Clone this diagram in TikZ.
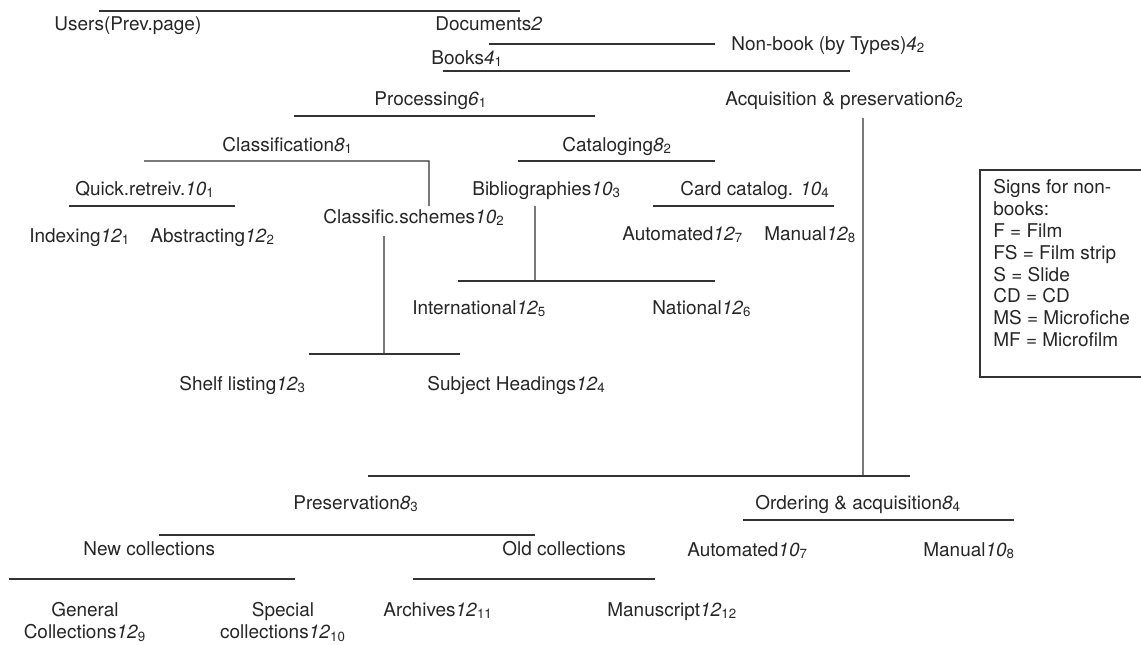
\documentclass[tikz,border=0pt]{standalone}
\usepackage{fontspec}
\setmainfont{TeX Gyre Heros}
\usetikzlibrary{positioning}
\newcommand{\refno}[2]{\textit{#1}\textsubscript{#2}}

\begin{document}
\begin{tikzpicture}[scale=0.2]
\tikzstyle{every node}+=[inner sep=0pt, text=black!85, font=\fontsize{10.8pt}{12.45pt}\selectfont]
\tikzstyle{lbl}=[anchor=base west]
\tikzstyle{bar}=[black!80, line width=0.6pt]
\useasboundingbox (0,0) rectangle (114.1,-64.4);
% top levels
\draw [bar] (9.9,-1.1) -- (52,-1.1);
\draw (5.4,-3) node [lbl] (users) {Users(Prev.page)};
\draw (43.5,-3) node [lbl] (docs) {Documents\textit{2}};
\draw [bar] (48.9,-4.4) -- (71.5,-4.4);
\draw (73.1,-5) node [lbl] (nonbook) {Non-book (by Types)\refno{4}{2}};
\draw (43.1,-6.4) node [lbl] (books) {Books\refno{4}{1}};
\draw [bar] (44.3,-7.1) -- (85,-7.1);
\draw (37.4,-10.5) node [lbl] (proc) {Processing\refno{6}{1}};
\draw (72.5,-10.5) node [lbl] (acq) {Acquisition \& preservation\refno{6}{2}};
\draw [bar] (29.4,-11.6) -- (59.5,-11.6);
% processing
\draw (22.2,-15.1) node [lbl] (class) {Classification\refno{8}{1}};
\draw (56.2,-15.1) node [lbl] (catal) {Cataloging\refno{8}{2}};
\coordinate (classend) at (42.9,-16.1);
\draw [bar] (14.4,-16.1) -- (classend) -- ++(0,-4.5);
\draw [bar] (51.8,-16.1) -- (71.5,-16.1);
\draw (7.5,-19.5) node [lbl] (quick) {Quick.retreiv.\refno{10}{1}};
\draw (47.2,-19.5) node [lbl] (biblio) {Bibliographies\refno{10}{3}};
\draw (68,-19.5) node [lbl] (card) {Card catalog. \refno{10}{4}};
\draw [bar] (6.9,-20.6) -- (23.5,-20.6);
\draw [bar] (65.3,-20.6) -- (83.4,-20.6);
\draw (32.3,-22.3) node [lbl] (schemes) {Classific.schemes\refno{10}{2}};
\draw (2.9,-24.2) node [lbl] (index) {Indexing\refno{12}{1}};
\draw (15,-24.2) node [lbl] (abstr) {Abstracting\refno{12}{2}};
\draw (62.2,-24) node [lbl] (auto12) {Automated\refno{12}{7}};
\draw (76.4,-24) node [lbl] (man12) {Manual\refno{12}{8}};
% bibliographies
\coordinate (biblev) at (53.5,-20.6);
\draw [bar] (biblev) -- (53.5,-28.1);
\draw [bar] (45.8,-28.1) -- (71.5,-28.1);
\draw (41.2,-31.4) node [lbl] (intl) {International\refno{12}{5}};
\draw (65.2,-31.4) node [lbl] (natl) {National\refno{12}{6}};
% schemes
\coordinate (schemev) at (38.4,-23.6);
\draw [bar] (schemev) -- (38.4,-35.4);
\draw [bar] (30.9,-35.4) -- (46,-35.4);
\draw (17.9,-39) node [lbl] (shelf) {Shelf listing\refno{12}{3}};
\draw (42.7,-39) node [lbl] (subj) {Subject Headings\refno{12}{4}};
% acquisition & preservation
\coordinate (acqv) at (86.3,-11.8);
\draw [bar] (acqv) -- (86.3,-47.6);
\draw [bar] (36.8,-47.6) -- (91,-47.6);
\draw (29.3,-50.9) node [lbl] (pres) {Preservation\refno{8}{3}};
\draw (75.5,-50.9) node [lbl] (order) {Ordering \& acquisition\refno{8}{4}};
\draw [bar] (74.3,-52) -- (101.4,-52);
\draw [bar] (15.9,-53.5) -- (53.5,-53.5);
\draw (8.3,-55.5) node [lbl] (newcol) {New collections};
\draw (50.2,-55.5) node [lbl] (oldcol) {Old collections};
\draw (68.7,-55.6) node [lbl] (auto10) {Automated\refno{10}{7}};
\draw (92.3,-55.6) node [lbl] (man10) {Manual\refno{10}{8}};
\draw [bar] (0.9,-57.9) -- (29.5,-57.9);
\draw [bar] (41.3,-57.9) -- (65.5,-57.9);
\draw (8.5,-60.2) node [anchor=north, align=center] (general) {General\\Collections\refno{12}{9}};
\draw (28.3,-60.2) node [anchor=north, align=center] (special) {Special\\collections\refno{12}{10}};
\draw (38.3,-61.6) node [lbl] (arch) {Archives\refno{12}{11}};
\draw (60.7,-61.6) node [lbl] (manu) {Manuscript\refno{12}{12}};
% legend, cut off at the right edge
\draw [bar] (114.1,-17) -| (98,-37.7) -- (114.1,-37.7);
\draw (99.3,-17.9) node [anchor=north west, align=left] (signs) {Signs for non-\\books:\\F = Film\\FS = Film strip\\S = Slide\\CD = CD\\MS = Microfiche\\MF = Microfilm};
\end{tikzpicture}
\end{document}
